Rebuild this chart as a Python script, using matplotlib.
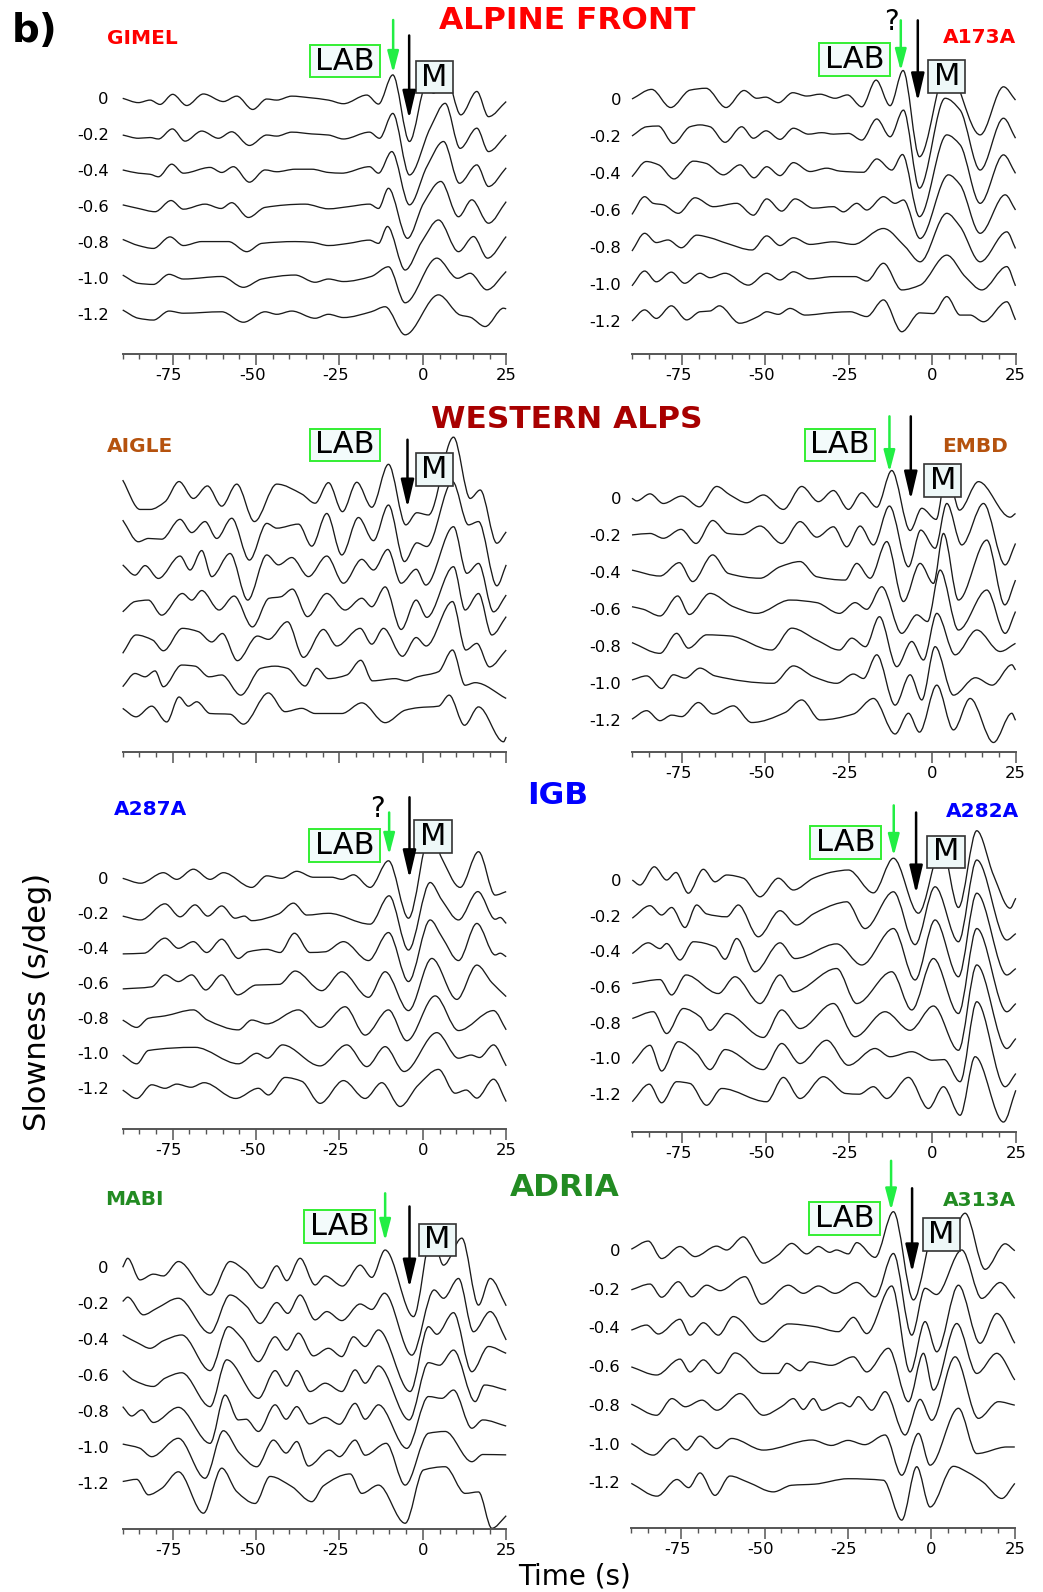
import numpy as np
import matplotlib
matplotlib.use("Agg")
import matplotlib.pyplot as plt
from matplotlib.path import Path
from matplotlib.patches import PathPatch
from matplotlib.ticker import MultipleLocator
from matplotlib.transforms import ScaledTranslation

W, H = 1043, 1592

slowness = [0, -0.2, -0.4, -0.6, -0.8, -1.0, -1.2]
slowness_labels = ["0", "-0.2", "-0.4", "-0.6", "-0.8", "-1.0", "-1.2"]
time_ticks = [-75, -50, -25, 0, 25]
time_labels = ["-75", "-50", "-25", "0", "25"]

# amplitude of one unit below, in s/deg (10 units = spacing between traces)
AMP = 0.02

# turning points of each trace: (time s, amplitude), one list per slowness
gimel = [
    [(-90, 0), (-85.3, -1.2), (-81.8, -0.5), (-78.8, -1.7), (-75, 1.1), (-70.8, -2), (-65.8, 1.2), (-59.8, -0.9),
     (-55.8, 0.6), (-51, -3.1), (-46.8, -0.2), (-43.8, -0.5), (-39.3, 0.6), (-34.3, 0.2), (-28.3, -0.5), (-23.8, -1.5),
     (-16.8, 0.9), (-13.3, -1.6), (-9, 6.5), (-4, -12), (1.2, 4.2), (3.2, 1.4), (6.7, 6.9), (11.4, -4.6), (16.2, 1.9),
     (19.7, -5.1), (25, -0.9)],
    [(-90, -0.2), (-85.3, -1.1), (-81.8, -0.9), (-79.3, -1.3), (-75.1, 1.5), (-71.3, -1.9), (-66.3, 0.9), (-61.3, -1.1),
     (-57.3, 0.7), (-52, -3.1), (-46.8, -0.2), (-43.8, -0.5), (-39.3, 0.6), (-33.3, 0.1), (-28.3, -0.2), (-23.8, -1.3),
     (-16, 0.6), (-13, -1.1), (-9, 5.8), (-4, -11.3), (2.2, 1.7), (6.7, 8.6), (11.2, -3.9), (16.2, 1.7), (19.7, -4.8),
     (25, -0.2)],
    [(-90, 0.1), (-85.3, -0.8), (-81.8, -1.1), (-79.3, -1.8), (-75.3, 1.7), (-71.8, -0.8), (-63.8, 0.8), (-60.3, -0.6),
     (-56.8, 1), (-52, -3.3), (-47.3, 0.1), (-43.8, -0.4), (-38.3, 0.3), (-33.3, 0.3), (-28.3, -0.6), (-24.3, -0.8),
     (-16, 1), (-13.3, -0.8), (-9.3, 5.2), (-4, -9.6), (1.2, 1), (6.2, 8), (11, -3.6), (16.2, 1.5), (19.7, -4.5),
     (25, 0.7)],
    [(-90, 0.4), (-85.3, -0.6), (-80.3, -1.5), (-75.5, 1.6), (-71.8, -0.8), (-65.3, 0.6), (-60.5, -0.6), (-57.3, 1),
     (-52.3, -3.1), (-47.3, -0.3), (-35.3, 0.6), (-28.3, -0.7), (-22.3, -0.1), (-16, 0.6), (-13.3, -0.6), (-10.3, 5),
     (-4.6, -8.9), (0.2, 0.8), (5.4, 6.9), (10.7, -2.9), (14.7, 1.8), (19.7, -4.7), (25, 1.3)],
    [(-90, 0.8), (-85.3, -0.9), (-80.8, -1.7), (-75.8, 1.5), (-71.8, -0.9), (-66.3, 0.2), (-58.3, 0.2), (-52.8, -2.6),
     (-48.3, -0.3), (-38.3, 0.2), (-33.3, 0), (-28.3, -0.9), (-22.3, -0.3), (-16, 0.6), (-13.3, -0.3), (-10.6, 4.4),
     (-5.3, -7.7), (-0.3, 0.2), (4.7, 6.2), (10.7, -2.6), (15.2, 1.6), (19.4, -4.4), (25, 1.6)],
    [(-90, 0.9), (-85.3, -1.4), (-80.8, -1.7), (-76.1, 1.1), (-71.8, -0.2), (-60.3, 0.5), (-53.8, -2.5), (-48.3, -0.2),
     (-38.3, 0.9), (-32.3, -1.1), (-28.3, -0.2), (-23.8, -0.9), (-15.5, 0.5), (-10.3, 3.2), (-5.3, -6.8), (4.2, 5.6),
     (10.4, 0), (14.2, 1.4), (19.2, -3.2), (25, 1.9)],
    [(-90, 1.2), (-85.3, -1.1), (-80.8, -1.6), (-76.1, 0.9), (-71.8, 0.3), (-60.3, 0.7), (-53.8, -2.2), (-47.3, 0.7),
     (-43.8, 0), (-39.3, 0.9), (-32.3, -1.1), (-28.3, 0), (-23.8, -0.9), (-15.5, 0.7), (-11.3, 2.1), (-5.3, -5.7),
     (4.7, 5.4), (11.2, -0.2), (14.2, -0.8), (18.7, -3.4), (24.2, 1.7), (25, 1.5)],
]

a173a = [
    [(-90, 0), (-84.1, 2.6), (-78.4, -2.3), (-72.6, 2.4), (-67.8, 2.9), (-61.8, -2.3), (-56.4, 2.3), (-52.6, 0.2),
     (-49.9, 0.5), (-46.1, -1), (-41.8, 1.7), (-37.6, 0.8), (-33.6, 1.3), (-29.1, 0.2), (-25.4, 1.1), (-21.1, -2.1),
     (-16.8, 5.1), (-12.6, -1.8), (-8.7, 7.7), (-3.8, -15.6), (4.4, 8.3), (14.4, -9.7), (21.4, 3.3), (25, -0.3)],
    [(-90, 0), (-85.6, 2.5), (-82.1, 2.7), (-77.6, -2), (-72.6, 2.5), (-69.6, 3), (-66.6, 2.5), (-62.1, -1.7),
     (-57.1, 2.5), (-53.6, -0.6), (-49.8, 1.4), (-45.6, -0.9), (-41.6, 2.1), (-37.1, 0.5), (-33.1, 0.9), (-29.6, 0.5),
     (-25.1, 0.7), (-21.1, -1.1), (-16.6, 4.6), (-12.6, -0.2), (-8.6, 7), (-3.8, -14.1), (3.9, 10.2), (8.4, 7),
     (14.4, -9.2), (21.4, 4.8), (25, -0.6)],
    [(-90, -1), (-85.7, 3.1), (-82, 2.2), (-77.4, -1.6), (-71.6, 3.2), (-67.8, 2.6), (-62.6, -0.5), (-57.6, 2.2),
     (-53.4, -1.3), (-49.6, 1.7), (-45.6, -0.7), (-41.6, 2.8), (-36.6, 0.4), (-31.6, 1.3), (-27.6, 0.5), (-20.6, 0.2),
     (-16.6, 3.8), (-12.1, 0.8), (-8.9, 5), (-3.8, -11.8), (4.4, 10.3), (8.4, 7.6), (14.4, -8.2), (21.4, 4.9),
     (25, -0.1)],
    [(-90, -1.2), (-86.2, 3.6), (-83.6, 1.8), (-80.6, 1.4), (-76.1, -0.9), (-71.1, 3.3), (-65.6, 0.9), (-58.6, 1.8),
     (-53.6, -1.4), (-49.6, 3), (-45.1, -0.3), (-41.1, 3), (-35.6, 0.5), (-29.6, 0.9), (-26.6, -0.5), (-22.6, 1.8),
     (-19.6, 0), (-14.6, 3.6), (-11.1, 1.8), (-8.6, 2.7), (-3.6, -7.7), (4.9, 9.5), (8.4, 6.8), (14.4, -6.3),
     (21.9, 4.1), (25, 0)],
    [(-90, -1.1), (-86.2, 3.7), (-82.7, 1.2), (-79.2, 1.9), (-75.2, -0.2), (-70.6, 3.2), (-66.6, 2.5), (-61.6, 1),
     (-54, -0.8), (-49.6, 3), (-45.6, 0.4), (-41.6, 2.5), (-36.6, 0.7), (-29.6, 1.4), (-23.6, 0.7), (-14.6, 5),
     (-8.1, 0.1), (-3.6, -4), (4.4, 9.1), (8.4, 5.5), (14.4, -4), (22.4, 4.1), (25, -0.4)],
    [(-90, -0.5), (-86.2, 3.5), (-82.7, 0.6), (-78.2, 3.2), (-74.2, 0.2), (-69.6, 2.9), (-66.6, 1.7), (-62.1, 2.9),
     (-55.1, -0.3), (-49.6, 2.9), (-45.6, 1.1), (-41.6, 3.3), (-36.6, 1.4), (-29.6, 2), (-23.1, 2), (-19.6, 0.8),
     (-14.6, 5.6), (-9.1, -1.6), (-3.6, -0.3), (4.4, 7.8), (9.9, 2), (14.9, -1.6), (22.4, 4.7), (25, -0.5)],
    [(-90, 0), (-86.2, 3), (-82.7, 0.7), (-78.2, 4.1), (-73.6, 0.3), (-69.6, 2.5), (-66.6, 2.7), (-63.8, 4.1),
     (-57.7, -0.6), (-52.2, 1.2), (-49.6, 2.5), (-46.1, 1.8), (-42.6, 3.4), (-38.1, 1.6), (-29.6, 2.3), (-24.6, 2.5),
     (-19.6, 1.2), (-14.6, 5.7), (-9.1, -2.9), (-3.7, 2.2), (0.3, 2), (4.4, 6.6), (8.4, 1.6), (11.4, 1.6),
     (15.4, -0.2), (22.4, 5.2), (25, 0.3)],
]

aigle = [
    [(-90, 3.6), (-84.8, -4.4), (-81.8, -4.4), (-77.3, -2.3), (-73.1, 3.2), (-68.8, -1.4), (-64.6, 2), (-60.3, -3.5),
     (-55.8, 2.5), (-50.5, -7.7), (-43.8, 2.5), (-36.3, -0.2), (-32.3, -2.7), (-28.3, 2.9), (-24.1, -5), (-19.8, 3),
     (-15.3, -3.8), (-10.3, 7.9), (-5.1, -8.6), (-1.8, -5.3), (1.7, -5.9), (9.2, 15.3), (14.2, -1.4), (17.2, 0.9),
     (22.2, -13.6), (25, -10.5)],
    [(-90, 2.7), (-85.3, -3.2), (-82.3, -2.3), (-78.3, -2.5), (-72.8, 2.9), (-69.3, -0.7), (-65.3, 2.3), (-61.8, -2.3),
     (-57.3, 3.2), (-52, -8.2), (-46.8, 1.8), (-43.8, 0.5), (-37.3, 1.6), (-33.3, -4.4), (-28.8, 4.5), (-24.3, -6.8),
     (-19.3, 3.4), (-14.8, -2.9), (-10.3, 6.8), (-5.5, -8.6), (-1.8, -3.5), (1.2, -4.5), (8.9, 13.2), (13.7, 1.4),
     (16.7, 2.3), (22.2, -15.2), (25, -9.5)],
    [(-90, 0.5), (-86.3, -2.3), (-83.3, 0.3), (-79.3, -3.2), (-72.8, 2.9), (-69.8, -0.9), (-66.3, 4.4), (-63.3, -2.7),
     (-57.8, 3.6), (-52.5, -9.1), (-46.8, 3.2), (-43.3, 0.5), (-39.3, 2.5), (-34.3, -2.7), (-28.8, 2.9), (-23.8, -4.5),
     (-18.3, 2), (-14.8, -0.9), (-10.5, 4.7), (-6.5, -4.5), (-2, -0.7), (0.9, -5), (9.2, 10.9), (13.2, -1.8),
     (16.7, 0.9), (21.2, -12.3), (25, -7.7)],
    [(-90, -2.3), (-86.3, 0.5), (-82.3, 0.9), (-78.3, -3.2), (-72.1, 2.7), (-69.3, 0.9), (-66.3, 3.5), (-61.1, -1.8),
     (-56.6, 2), (-51.1, -6.4), (-46.1, 1.4), (-42.6, 1.8), (-39.1, 3.9), (-34.6, -3.6), (-28.8, 2.7), (-23.3, -1.8),
     (-18.3, 1.4), (-15.3, -0.9), (-11.3, 4.5), (-6.5, -7.1), (-2, 0.9), (1.2, -3.8), (9.2, 10), (12.7, -1.8),
     (16.7, 2.7), (20.7, -8.6), (25, -3.6)],
    [(-90, -3.6), (-86, 1.4), (-81, 0), (-77.8, -2.9), (-72.1, 3.2), (-67.3, 2.3), (-63.3, -0.5), (-60.1, 1.8),
     (-55.6, -5.6), (-49.6, 1.1), (-46.3, 0.2), (-40.6, 5), (-35.8, -4.7), (-29.8, 2.9), (-25.8, -1.6), (-18.8, 3.2),
     (-15.3, -1.1), (-11.8, 3.2), (-6.1, -4.4), (-2, 0.7), (1, -1.6), (8.9, 10.5), (12.9, -2.7), (16.2, -0.9),
     (20, -7.3), (25, -2.7)],
    [(-90, -2.7), (-86.3, 0.9), (-83.3, 0), (-80.3, 1.6), (-77.8, -2.7), (-72.3, 3.2), (-68.3, 2.9), (-64.1, 0),
     (-60.3, 0.5), (-54.6, -5), (-48.6, 2.3), (-44.3, 2.9), (-40.6, 2.3), (-35.3, -2.5), (-31.8, 2.3), (-28.3, -0.5),
     (-22.8, 0.5), (-18.6, 4.5), (-15.1, -1.1), (-8.3, -0.5), (-5.1, -1.1), (-1.6, 0), (4.7, 1.4), (8.9, 7.3),
     (12.7, -2.3), (15.7, -1.6), (25, -5.9)],
    [(-90, 1.4), (-86, -0.9), (-81.3, 2), (-76.8, -2.3), (-73.1, 4.5), (-70.3, 2), (-67.8, 3.2), (-63.8, 0),
     (-57.8, -0.2), (-53.8, -2.9), (-46.3, 5.6), (-41.3, 0.5), (-36.3, 1.4), (-32.3, 0), (-24.3, 0), (-18.3, 2.9),
     (-11.3, -2.5), (-5.3, 0.9), (-1.3, 1.6), (4.7, 2), (7.9, 5), (12.5, -3.2), (16.7, 1.8), (24.2, -7.7), (25, -6.4)],
]

embd = [
    [(-90, 0), (-88.6, -0.7), (-84.6, 1.2), (-80.6, -1.4), (-75.1, 0.6), (-69.8, -2.3), (-64.6, 3.2), (-60.6, 0.9),
     (-55.6, -1.2), (-50.6, 0.9), (-44.6, -3), (-39.1, 3.2), (-34.1, -0.9), (-29.6, 2.1), (-25.1, -3), (-21.1, 1.5),
     (-16.6, -2.4), (-12.1, 7.5), (-6.6, -8.7), (-3.1, -2.7), (1.2, -5.7), (4.4, 7.7), (8.2, -3.2), (13.9, 4.5),
     (23.4, -5.1), (25, -4.1)],
    [(-90, 0.1), (-84.6, 0.5), (-80.6, -0.8), (-75.3, 1.6), (-70.8, -2.2), (-65.8, 4), (-61.3, 0.5), (-57, 0.2),
     (-51.6, 2.5), (-45.1, -2.2), (-39.6, 3.7), (-34.6, -0.5), (-29.6, 2.3), (-25.6, -3.1), (-21.6, 2.5),
     (-17.6, -2.6), (-12.8, 7.9), (-7.1, -8.5), (-3.4, 1.4), (0.9, -3.5), (4.4, 8.6), (8.9, -2.6), (15.4, 8.6),
     (21.9, -8), (25, -2.2)],
    [(-90, 0.6), (-81.6, -1), (-75.8, 2.6), (-71.8, -2.5), (-65.8, 4.7), (-61.1, -0.3), (-51.6, -1.6), (-45.6, 1.5),
     (-39.6, 2.9), (-34.6, -1.2), (-26.1, -2.1), (-22.6, 2.4), (-18.6, -1.6), (-13.6, 8.3), (-8.6, -7.9), (-3.6, 2.4),
     (0.4, -3), (3.4, 10.5), (7.9, -7.5), (16.4, 8.7), (21.8, -8.8), (25, -2.1)],
    [(-90, 0.7), (-86.6, 0), (-81.6, -1.8), (-76.3, 3.6), (-72.8, -1.4), (-66.6, 4.3), (-59.6, 0.7), (-52.6, -1.1),
     (-42.6, 2.5), (-34.6, 1.8), (-27.8, -1.1), (-23.1, 1.8), (-19.6, 0), (-15.1, 6.1), (-9.1, -6.5), (-4.6, -1.5),
     (-1.4, -3.3), (2.4, 10.6), (7.9, -5.6), (16.4, 5.2), (21.9, -6.5), (25, -0.6)],
    [(-90, 1), (-81.6, -1.9), (-76.6, 3.5), (-73.1, -0.5), (-67.6, 3.1), (-60.6, 2.8), (-48.1, -1), (-42.1, 4.9),
     (-34.6, 1.7), (-27.8, -1), (-24.1, 2.2), (-20, -0.1), (-15.8, 8), (-10.6, -5.5), (-6.1, 1.3), (-2.6, -3.7),
     (1.4, 8.9), (6.9, -2.3), (13.4, 4.4), (20.4, -1.4), (25, 0.8)],
    [(-90, 0.9), (-85.6, 2), (-81.1, -1.4), (-77.6, 2.3), (-74.1, 1.4), (-69.6, 4.1), (-65.1, 2), (-47.6, 0),
     (-41.6, 4.7), (-35.6, 1.8), (-28.6, 0), (-23.6, 2.5), (-20.6, 1.3), (-16.6, 7.7), (-11.1, -5.9), (-6.6, 2.3),
     (-3.1, -4.5), (0.9, 9.9), (6.4, -3.2), (13, 1.5), (18, -0.5), (23.9, 5), (25, 3.6)],
    [(-90, 0.3), (-85.6, 2.6), (-81.6, -0.1), (-78.1, 1.4), (-75.1, 1), (-70.1, 4.8), (-65.6, 1.7), (-59.6, 3.9),
     (-54.1, -0.6), (-44.1, 2.1), (-39.1, 5.5), (-33.6, 0.1), (-23.6, 1.7), (-17.6, 5.9), (-11.1, -3.7), (-7.1, 1.9),
     (-3.8, -3.2), (1.4, 9.5), (6.4, -2.6), (11.4, 5.9), (18.4, -6), (23.9, 1.9), (25, 0)],
]

a287a = [
    [(-90, 0), (-84.6, -1.4), (-77.8, 1.6), (-73.8, -0.3), (-68.8, 2.6), (-63.8, -0.3), (-59.8, 1.6), (-51.3, -2.6),
     (-46.8, 0.7), (-42.3, 0), (-37.8, 2), (-32.8, 0.3), (-27.3, 0.3), (-24.3, -0.3), (-20.8, 1), (-15.8, -2.6),
     (-10.3, 5), (-4.3, -11.4), (2.2, 13), (5.7, 5.7), (11.2, -2.6), (16.7, 7.6), (21.7, -4.8), (25, -3.8)],
    [(-90, -0.8), (-84.6, -1.9), (-77.3, 2.7), (-72.8, -1), (-68.3, 2.4), (-64.5, -0.8), (-60.3, 2.1), (-56.3, -1.4),
     (-53.5, -0.8), (-51.3, -2.1), (-43.3, -0.2), (-38.8, 2.9), (-34.8, -0.5), (-28.3, 0), (-15.8, -3.1), (-10.1, 5),
     (-4.3, -10.5), (2.2, 8.8), (5.7, 3.8), (10.7, -1.9), (16.5, 6.2), (21.7, -1.7), (23.2, -1.2), (25, -2.9)],
    [(-90, -1.6), (-83.6, -1.4), (-77.3, 2.9), (-73.3, 0), (-68.8, 1.9), (-64.8, -1.2), (-60.3, 2.6), (-55.3, -2.9),
     (-52.3, -1), (-46.8, -0.3), (-42.8, -1.2), (-38.5, 4.3), (-33.8, -1.2), (-29.3, -1), (-23.8, 1.9), (-16.3, -3.5),
     (-10.3, 4.5), (-4.3, -9.5), (2.2, 8.1), (5.7, 3.3), (10.7, -3.5), (16.2, 7.1), (21.7, -1.9), (23.2, -1.4),
     (25, -2.4)],
    [(-90, -1.6), (-81.3, -1), (-77.3, 2.4), (-73.3, 0.5), (-69.3, 2.4), (-65.1, -1.9), (-60.3, 2.4), (-55.5, -3.3),
     (-50, -0.5), (-43, -0.3), (-38.3, 3.5), (-30.3, -2.1), (-24.3, 3.3), (-16.3, -4), (-11.3, 3.3), (-4.3, -7.8),
     (2.7, 7.1), (10.2, -4.6), (16.2, 5.2), (20.7, 0.2), (25, -3.8)],
    [(-90, -0.5), (-85.8, -2.6), (-82.3, 0), (-77.3, 0.7), (-68.8, 2.4), (-64.6, -0.5), (-55.3, -3.3), (-51.3, -0.5),
     (-46.8, -1.6), (-37.3, 2.4), (-30.8, -2.6), (-23.3, 3.3), (-17.3, -4.8), (-10.3, 2.4), (-4.8, -6.4), (3.7, 6.4),
     (10.7, -3.5), (21.2, 2.2), (25, -3.3)],
    [(-90, -0.5), (-85.8, -3), (-82.3, 0.8), (-68.3, 1.7), (-55.3, -3), (-49.8, 0), (-46.6, -1.4), (-42.1, 2.4),
     (-30.8, -3.6), (-22.8, 2.4), (-16.8, -3.8), (-11.3, 1.9), (-5.6, -5.2), (4.2, 5.9), (10.7, -1.4), (14.5, -0.5),
     (17, -1.2), (21.2, 2.4), (25, -3.6)],
    [(-90, -0.5), (-85.8, -2.9), (-81.3, 1), (-77.3, 0), (-73.8, 1.2), (-69.5, 0.3), (-65.6, 1.6), (-56.1, -2.9),
     (-49.3, 0), (-46.3, -1.9), (-41.3, 3.1), (-36.3, 2), (-30.8, -4.3), (-23.8, 2.2), (-17.3, -2.9), (-12.3, 1.6),
     (-6.8, -5.2), (-1.5, 0.8), (4.7, 5.4), (9.7, -1.4), (13, -0.5), (16.2, -2.8), (21.2, 2.6), (25, -3.8)],
]

a282a = [
    [(-90, 0), (-87.7, -1.4), (-83.4, 3.7), (-79.7, 0), (-76.9, 2.1), (-73.2, -3.7), (-68.7, 3), (-65.2, -0.5),
     (-61.7, 1.4), (-56.7, 0.5), (-51.7, -4.7), (-46.2, 0.5), (-41.7, -2.8), (-35.7, 0.5), (-29.7, 2.3), (-25.2, 2.8),
     (-17.7, -3.6), (-11.7, 6.1), (-4.2, -9.3), (2.8, 9.3), (7.8, -7.7), (13.3, 13.8), (18.3, 1.4), (23.3, -7.9),
     (25, -5.1)],
    [(-90, -0.7), (-84.7, 2.8), (-81.2, 0.2), (-78.2, 2.3), (-74.2, -3.3), (-70.7, 3), (-67.7, 0.5), (-61.7, -0.3),
     (-58.2, 3), (-52.2, -5.9), (-45.7, 1.4), (-40.7, -2.6), (-35.7, 0.5), (-27.7, 3.6), (-25.7, 3.9), (-20.2, -3.6),
     (-11.7, 6.7), (-5.2, -8.1), (0.8, 8.1), (7.8, -7.3), (13.3, 15.6), (22.3, -6.8), (25, -5)],
    [(-90, -0.6), (-85.2, 2.4), (-81.7, 0.8), (-79.7, 2.2), (-75.7, -2.4), (-71.7, 2.7), (-65.2, 1.3), (-62.2, -2.2),
     (-58.7, 3.6), (-53.2, -5.7), (-45.7, 2.4), (-41.2, -2), (-28.7, 2.1), (-21.2, -3.8), (-11.7, 6.4), (-5.2, -8),
     (0.8, 8.8), (7.8, -7.1), (13.3, 16.3), (22.3, -6.6), (25, -4.8)],
    [(-90, 1), (-81.7, 2.1), (-78.2, -2.2), (-73.9, 3.4), (-64.2, -1.8), (-59.2, 2.9), (-51.7, -4.6), (-45.7, 3.4),
     (-41.7, -1.3), (-28.7, 5.2), (-22.7, -4.6), (-12.2, 4.3), (-6.2, -6.4), (0.3, 8), (7.8, -7.4), (13.3, 16.4),
     (22.3, -6.9), (25, -4.6)],
    [(-90, 1.2), (-83.7, 3.1), (-79.7, -3), (-74.7, 4), (-69.7, 1.7), (-66.7, -2.1), (-61.7, 2.6), (-50.7, -4.1),
     (-45.2, 3.6), (-39.7, -1.6), (-29.7, 5.4), (-23.2, -3.9), (-14.2, 3.1), (-6.7, -2.1), (0.3, 4.7), (7.8, -7.7),
     (13.3, 16.2), (22.3, -7.2), (25, -4.4)],
    [(-90, -1.4), (-84.7, 3.7), (-81.2, -3.5), (-76.2, 4.7), (-70.7, 1.4), (-66.7, -3.1), (-62.2, 2.5), (-50.7, -3.1),
     (-45.2, 4.2), (-39.7, -1.4), (-31.7, 5.1), (-25.2, -1.9), (-17.2, 2.8), (-12.7, 0.5), (-6.2, 1.9), (0, -0.5),
     (3.5, -0.3), (8.3, -6.5), (13.3, 15.9), (21.8, -7.9), (25, -4.2)],
    [(-90, -2.1), (-84.9, 2.8), (-81.2, -2.4), (-76.7, 3.5), (-72.7, 3), (-67.7, -3.1), (-63.2, 1.6), (-49.7, -2.1),
     (-44.7, 4.7), (-39.7, -1.2), (-32.7, 4.9), (-26, 0.2), (-22, 0), (-17.7, 2.1), (-13.7, -1.2), (-7.2, 4.7),
     (-1.2, -4), (3.3, 2.1), (8.3, -5.9), (12.8, 10.5), (21.3, -7.8), (25, 1.1)],
]

mabi = [
    [(-90, 0), (-88.5, 2.5), (-84.8, -3.5), (-80.8, -1.9), (-77.8, -2.4), (-73.3, 1.6), (-63.8, -7.7), (-57.8, 1.6),
     (-53.3, -0.9), (-48.3, -5.8), (-43.8, 0.4), (-40.8, -3.7), (-36.8, 2.5), (-32.3, -4.9), (-29.3, -2.4),
     (-24.1, -5.2), (-18.8, 0.6), (-15.3, -2.8), (-11.3, 4.8), (-2.8, -13.7), (2.7, 9), (6.2, 0.6), (11.7, 8.1),
     (16.7, -10.5), (20.2, -3.1), (25, -10.7)],
    [(-90, 0.5), (-88.5, 1.7), (-83.8, -3.2), (-79.8, -1.4), (-73.3, 1.4), (-63.8, -8.3), (-57.8, 2.3), (-52.8, -0.9),
     (-48.8, -5.6), (-43.8, 0.2), (-40.5, -2.8), (-36.8, 2.3), (-32.3, -4.6), (-28.8, -2.3), (-24.3, -4.8),
     (-18.8, -0.2), (-15.3, -1.7), (-11.5, 2.8), (-3.3, -14.4), (3.4, 3.7), (6.2, 1.4), (10.7, 6.9), (15.2, -7.9),
     (20.2, -2.3), (25, -10.2)],
    [(-90, 1.2), (-85.3, -1.1), (-81.8, -2.5), (-77.8, -0.4), (-72.3, 1.2), (-63.8, -8.7), (-58.3, 3.5), (-54.3, 0.3),
     (-49.3, -6.2), (-44.3, 0.7), (-40.8, -3), (-37.3, 1.7), (-32.8, -4.6), (-28.3, -2.5), (-24.3, -4.8),
     (-20.8, 0.7), (-17.3, -2), (-13.3, 2.6), (-3.8, -14.5), (1.7, 3.5), (4.2, 1.4), (9.2, 7.4), (14.7, -9),
     (19.7, -2), (25, -3.9)],
    [(-90, 1.3), (-86.8, -1.3), (-80.8, -3.1), (-77.3, -0.8), (-72.3, 0.7), (-63.8, -8.7), (-58.8, 4.3),
     (-49.3, -6.4), (-44.3, 1.3), (-40.8, -3), (-37.8, 1.3), (-33.8, -4.5), (-29.3, -2.2), (-24.3, -4.5), (-20.3, 1.5),
     (-17.3, -2.2), (-13.3, 2.6), (-4.1, -12.4), (1.7, 3.5), (5, 2.8), (9.2, 7), (15.7, -7.3), (18.5, -2.7),
     (25, -4.1)],
    [(-90, 1.3), (-87.3, -1.3), (-84.3, 0.4), (-80.8, -3.1), (-73.3, 1.1), (-63.8, -8.9), (-59.3, 4.5), (-55.3, -2.4),
     (-53, -2.2), (-49.3, -5.6), (-44.3, 1.8), (-41, -2.2), (-37.8, 1.3), (-34, -3.5), (-29.3, -1.7), (-25, -3.6),
     (-20.3, 2.2), (-17.3, -2.2), (-13.3, 1.8), (-4.8, -10.3), (1.7, 4.1), (5.7, 3.6), (9.2, 5.9), (14.7, -4.7),
     (18, -2.4), (25, -4.1)],
    [(-90, 0.9), (-85, -0.2), (-81.3, -2.6), (-73.3, 2.5), (-65.3, -8.6), (-59.8, 4.6), (-55, -1.6), (-49.8, -5.4),
     (-44.8, 2), (-41, -1.6), (-37.8, 1.6), (-34.3, -5.2), (-28, -0.8), (-25, -2.6), (-20.3, 2), (-17.3, -2.2),
     (-11, 1.1), (-5.3, -10.5), (1.7, 3.9), (6.7, 4.4), (14.7, -4), (18, -2), (25, -2.1)],
    [(-90, 0.5), (-85.8, 1.1), (-82.3, -3.2), (-78.3, -1.4), (-73.3, 3.2), (-65.8, -8.3), (-60.3, 4.2), (-55.8, -2.3),
     (-50.3, -5.6), (-45.8, 1.9), (-39.3, -0.9), (-33.3, -5.1), (-29.8, -0.7), (-21.8, 2.6), (-18.3, -2.8),
     (-13.3, -0.5), (-5.3, -11.1), (0.2, 3.7), (6.7, 4.6), (12.7, -2.8), (16.7, -2.4), (20.7, -12.5), (24.7, -9.3),
     (25, -9)],
]

a313a = [
    [(-90, 0.2), (-84.9, 2.3), (-80.9, -2.2), (-75.4, 0.9), (-70.9, -1.7), (-64.4, 1), (-61.4, 0), (-56.4, 3.4),
     (-50.4, -3.4), (-46, -1.3), (-41.9, 1.7), (-37.4, -1), (-33.9, 0.9), (-30.5, -0.6), (-28.5, 0), (-24.9, -1),
     (-22.4, 1.9), (-16.9, -1.9), (-11.4, 9.9), (-5.4, -12.9), (1, 5), (4.5, 1), (10.1, 9.5), (16.1, -5),
     (22.1, 1.6), (25, -0.2)],
    [(-90, -0.3), (-84.4, 1.2), (-80.9, -2.2), (-75.9, 1.8), (-71.9, -2.1), (-67.4, 0.9), (-63.4, -0.5), (-55.9, 3.1),
     (-50.9, -4), (-42.9, 0.9), (-38.4, -1.2), (-33.9, 0.7), (-28.9, -1.2), (-22.4, 1.6), (-16.9, -2.1),
     (-11.4, 9.1), (-5.9, -12), (-1.9, 0.1), (1.5, -1.5), (9.1, 10), (15.1, -2.5), (20.6, 1.6), (25, -2.5)],
    [(-90, -0.7), (-85.4, 0.6), (-81.9, -1.7), (-75.4, 2.1), (-72.4, -2), (-68.4, 1.2), (-63.9, -2), (-59.4, 2.8),
     (-50.4, -3.7), (-42.9, 0.9), (-35, 0.2), (-27.9, -1.1), (-23.4, 2.6), (-19.4, -1.6), (-11.9, 10.7),
     (-6.4, -11.5), (-1.9, 1.5), (1.6, -6.3), (8.1, 10.9), (14.6, -4.1), (19.6, 3.6), (25, -4.1)],
    [(-90, -0.2), (-82.4, -2.3), (-75.4, 1.8), (-72.4, -1.5), (-68.4, 1.6), (-63.9, -1.9), (-58.9, 3.4),
     (-50.4, -1.9), (-46, -1.9), (-43.4, 0.7), (-39.4, -1.2), (-36.4, 1.1), (-30, 0.2), (-23.4, 2.4), (-19.4, -1.5),
     (-12.9, 4.6), (-6.9, -9.2), (-2.4, 3.3), (0.6, -6.2), (7.6, 11), (13.6, -1.9), (19.6, 3.3), (25, -3.6)],
    [(-90, 0.2), (-82.4, -2.7), (-77.8, 1.6), (-73.8, -0.5), (-68.8, 1.2), (-64.3, -1.4), (-57.4, 2.9),
     (-50.4, -2.7), (-45, -0.5), (-41.4, 1.6), (-38.4, -1.2), (-35.4, 1.6), (-32.8, -1.4), (-27, 0.5), (-24.5, -0.5),
     (-21.9, 2.1), (-17.9, -1.4), (-13.9, 3.4), (-7.9, -7.8), (-3.4, 1.4), (0.1, -4), (7.1, 12.4), (14.1, -3.5),
     (20.1, 0.8), (25, -0.1)],
    [(-90, 0), (-83.4, -3), (-77.4, 1.3), (-73.4, -1.7), (-69.4, 1.9), (-64.4, -1.3), (-59.9, 1.3), (-50.4, -1.7),
     (-35.8, 0.9), (-30, -0.5), (-25, 0.8), (-20, -0.3), (-13.9, 2.2), (-8.9, -8.2), (-3.9, 2.6), (-0.4, -5.6),
     (8.1, 9.1), (13.6, -2.6), (22.6, -0.9), (25, -0.9)],
    [(-90, -0.3), (-82.3, -3.6), (-76.3, 0.7), (-72.8, -1.4), (-69.4, 2.4), (-64.9, -3.4), (-60.4, 1.6), (-55, 0),
     (-47.4, -2.5), (-42, -0.8), (-35, -0.5), (-25, 0.9), (-14.4, 0.5), (-8.9, -9.8), (-4.4, 4), (-0.4, -6.4),
     (6.6, 4.1), (11, 2.5), (15.5, 0), (21.1, -4.2), (25, -0.3)],
]

RED = "#ff0000"
DARKRED = "#a80000"
BROWN = "#b5520e"
BLUE = "#0000ff"
GREEN = "#228b22"

# station panels: traces, colour, left edge / axis line / first trace (pixels), trace spacing,
# label placement, annotation spots (time, slowness)
panels = [
    dict(name="GIMEL", data=gimel, color=RED, x0=122.7, bottom=354, top=0, base0=98.3, sp=36,
         name_xy=(142, 38.6), ylabels=True, xlabels=True, pad=10,
         lab=(-23.3, 0.207), m=(3.5, 0.118), green=(-8.9, 0.435, 0.14), black=(-4.1, 0.349, -0.115), q=None),
    dict(name="A173A", data=a173a, color=RED, x0=632, bottom=354, top=0, base0=99, sp=37,
         name_xy=(980, 37.6), ylabels=True, xlabels=True, pad=8,
         lab=(-23.3, 0.214), m=(4.4, 0.123), green=(-9.4, 0.425, 0.151), black=(-4.3, 0.425, -0.014),
         q=(-12.2, 0.415)),
    dict(name="AIGLE", data=aigle, color=BROWN, x0=122.7, bottom=751.7, top=395, base0=493.3, sp=36.7,
         name_xy=(140, 446), ylabels=False, xlabels=False, pad=10,
         lab=(-23.3, 0.264), m=(3.5, 0.131), green=None, black=(-4.6, 0.292, -0.079), q=None),
    dict(name="EMBD", data=embd, color=BROWN, x0=632, bottom=751.7, top=395, base0=498.3, sp=37,
         name_xy=(975, 446), ylabels=True, xlabels=True, pad=8,
         lab=(-27.6, 0.289), m=(3.2, 0.097), green=(-12.8, 0.443, 0.141), black=(-6.4, 0.443, -0.008), q=None),
    dict(name="A287A", data=a287a, color=BLUE, x0=122.7, bottom=1129, top=775, base0=878.3, sp=35,
         name_xy=(151, 809.5), ylabels=True, xlabels=True, pad=10,
         lab=(-23.5, 0.187), m=(3.0, 0.237), green=(-10.1, 0.376, 0.133), black=(-4.0, 0.463, -0.001),
         q=(-13.5, 0.394)),
    dict(name="A282A", data=a282a, color=BLUE, x0=632.3, bottom=1131.7, top=775, base0=880, sp=35.7,
         name_xy=(983, 811.5), ylabels=True, xlabels=True, pad=8,
         lab=(-26, 0.21), m=(4.1, 0.157), green=(-11.6, 0.418, 0.134), black=(-4.9, 0.378, -0.077), q=None),
    dict(name="MABI", data=mabi, color=GREEN, x0=122.7, bottom=1529.3, top=1160, base0=1267.3, sp=36,
         name_xy=(134, 1199.5), ylabels=True, xlabels=True, pad=10,
         lab=(-25, 0.225), m=(4.4, 0.152), green=(-11.3, 0.411, 0.146), black=(-4.0, 0.338, -0.114), q=None),
    dict(name="A313A", data=a313a, color=GREEN, x0=631.3, bottom=1528.3, top=1160, base0=1250, sp=38.7,
         name_xy=(980, 1200.5), ylabels=True, xlabels=True, pad=8,
         lab=(-26, 0.164), m=(3.0, 0.081), green=(-12.1, 0.461, 0.204), black=(-5.8, 0.319, -0.117), q=None),
]

regions = [("ALPINE FRONT", RED, (567, 20.3)), ("WESTERN ALPS", DARKRED, (567, 419.5)),
           ("IGB", BLUE, (558, 795)), ("ADRIA", GREEN, (565, 1188))]


def trace_path(points, base):
    t = np.array([p[0] for p in points], dtype=float)
    y = base + AMP * np.array([p[1] for p in points], dtype=float)
    h = np.diff(t)
    d = np.diff(y) / h
    m = np.zeros_like(y)
    m[0], m[-1] = d[0], d[-1]
    for k in range(1, len(y) - 1):
        if d[k - 1] * d[k] > 0:
            w1 = 2 * h[k] + h[k - 1]
            w2 = h[k] + 2 * h[k - 1]
            m[k] = (w1 + w2) / (w1 / d[k - 1] + w2 / d[k])
    verts = [(t[0], y[0])]
    codes = [Path.MOVETO]
    for k in range(len(h)):
        verts += [(t[k] + h[k] / 3, y[k] + m[k] * h[k] / 3),
                  (t[k + 1] - h[k] / 3, y[k + 1] - m[k + 1] * h[k] / 3),
                  (t[k + 1], y[k + 1])]
        codes += [Path.CURVE4] * 3
    return Path(verts, codes)


def label_box(x0, y0, width, height, mutation_size):
    # wider side margins than top/bottom
    px, py = 0.18 * mutation_size, 0.06 * mutation_size
    return Path([(x0 - px, y0 - py), (x0 + width + px, y0 - py), (x0 + width + px, y0 + height + py),
                 (x0 - px, y0 + height + py), (x0 - px, y0 - py)], closed=True)


fig = plt.figure(figsize=(W / 100, H / 100), dpi=100)
minus_shift = ScaledTranslation(-4 / 100, 0, fig.dpi_scale_trans)

for p in panels:
    width = 383.5
    ax = fig.add_axes([p["x0"] / W, 1 - p["bottom"] / H, width / W, (p["bottom"] - p["top"]) / H])
    ax.set_xlim(-90, 25)
    ax.set_ylim((p["base0"] - p["bottom"]) / p["sp"] * 0.2, (p["base0"] - p["top"]) / p["sp"] * 0.2)
    ax.patch.set_alpha(0)
    for side in ["left", "top", "right"]:
        ax.spines[side].set_visible(False)
    ax.spines["bottom"].set_color("#555555")
    ax.spines["bottom"].set_linewidth(1.4)

    for s, tr in zip(slowness, p["data"]):
        ax.add_patch(PathPatch(trace_path(tr, s), fill=False, edgecolor="#1a1a1a", lw=0.95, clip_on=False))

    ax.set_xticks(time_ticks)
    ax.xaxis.set_minor_locator(MultipleLocator(5))
    ax.tick_params(axis="x", which="major", direction="out", length=8, width=1.1, color="#555555",
                   labelsize=11.8, pad=2)
    ax.tick_params(axis="x", which="minor", direction="out", length=3.5, width=1.0, color="#555555")
    if p["xlabels"]:
        ax.set_xticklabels(time_labels)
        # negative labels sit with their digits over the tick
        for lbl in ax.get_xticklabels():
            if lbl.get_text().startswith("-"):
                lbl.set_transform(lbl.get_transform() + minus_shift)
    else:
        ax.set_xticklabels([])
    if p["ylabels"]:
        ax.set_yticks(slowness)
        ax.set_yticklabels(slowness_labels)
        ax.tick_params(axis="y", length=0, labelsize=11.8, pad=p["pad"])
    else:
        ax.set_yticks([])

    # LAB and Moho boxes
    ax.text(p["lab"][0], p["lab"][1], "LAB", ha="center", va="center", fontsize=22, zorder=5,
            bbox=dict(boxstyle=label_box, fc="#f3fbfb", ec="#33ee33", lw=1.4))
    ax.text(p["m"][0], p["m"][1], "M", ha="center", va="center", fontsize=22, zorder=5,
            bbox=dict(boxstyle=label_box, fc="#eef8f8", ec="#333333", lw=1.2))
    if p["green"] is not None:
        gt, g0, g1 = p["green"]
        ax.annotate("", xy=(gt, g1), xytext=(gt, g0), annotation_clip=False, zorder=6,
                    arrowprops=dict(arrowstyle="-|>,head_length=0.65,head_width=0.17", color="#22ee44",
                                    lw=1.8, mutation_scale=20, shrinkA=0, shrinkB=0))
    bt, b0, b1 = p["black"]
    ax.annotate("", xy=(bt, b1), xytext=(bt, b0), annotation_clip=False, zorder=6,
                arrowprops=dict(arrowstyle="-|>,head_length=0.85,head_width=0.2", color="black",
                                lw=1.8, mutation_scale=20, shrinkA=0, shrinkB=0))
    if p["q"] is not None:
        ax.text(p["q"][0], p["q"][1], "?", ha="center", va="center", fontsize=20)

    fig.text(p["name_xy"][0] / W, 1 - p["name_xy"][1] / H, p["name"], color=p["color"],
             fontsize=14.5, fontweight="bold", ha="center", va="center")

for title, col, (x, y) in regions:
    fig.text(x / W, 1 - y / H, title, color=col, fontsize=22.5, fontweight="bold", ha="center", va="center")

fig.text(35 / W, 1 - 31 / H, "b)", fontsize=28, fontweight="bold", ha="center", va="center")
fig.text(37.6 / W, 1 - 1002 / H, "Slowness (s/deg)", fontsize=22, rotation=90, ha="center", va="center")
fig.text(574 / W, 1 - 1576 / H, "Time (s)", fontsize=20, ha="center", va="center")

fig.savefig("out.png", dpi=100, facecolor="white")
